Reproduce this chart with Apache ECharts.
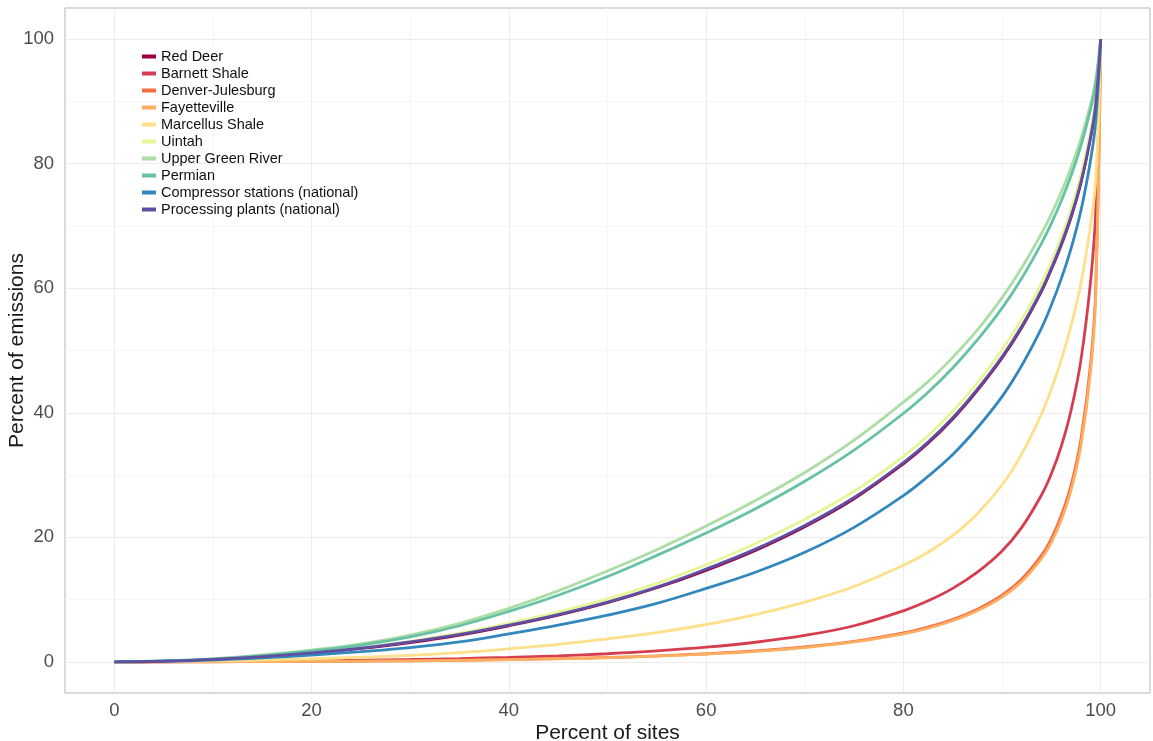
<!DOCTYPE html>
<html><head><meta charset="utf-8">
<script src="https://cdn.jsdelivr.net/npm/echarts@6/dist/echarts.min.js"></script>
<style>html,body{margin:0;padding:0;background:#fff}#c{width:1153px;height:741px}</style>
</head><body><div id="c"></div><script>
// Percent of sites (x)
const sitePct = [0,5,10,15,20,25,30,35,40,45,50,55,60,65,70,75,80,82.5,85,87.5,90,92,94,95,96,97,98,99,99.5,100];
// Percent of emissions (y) per basin
const redDeer      = [0,0.1,0.4,0.85,1.4,2.15,3.1,4.3,5.8,7.5,9.5,11.9,14.7,17.9,21.7,26.2,31.8,35.1,39.0,43.6,48.8,53.7,59.5,63.0,66.9,71.4,76.9,84.4,89.5,100];
const barnett      = [0,0.02,0.05,0.1,0.17,0.26,0.38,0.53,0.72,0.97,1.3,1.75,2.35,3.15,4.25,5.8,8.2,9.8,11.8,14.4,17.8,21.6,26.8,30.2,34.6,40.4,48.5,61.5,72.5,100];
const denverJ      = [0,0.01,0.02,0.04,0.07,0.12,0.18,0.26,0.37,0.52,0.7,0.95,1.3,1.75,2.4,3.3,4.65,5.6,6.8,8.45,10.7,13.3,17.1,19.8,23.5,28.4,35.8,48.2,60.2,100];
const fayetteville = [0,0.01,0.02,0.04,0.07,0.11,0.17,0.25,0.36,0.5,0.68,0.92,1.25,1.7,2.3,3.2,4.5,5.4,6.6,8.2,10.4,12.9,16.6,19.2,22.8,27.6,34.8,47.0,59.0,100];
const marcellus    = [0,0.05,0.15,0.3,0.5,0.75,1.05,1.5,2.1,2.8,3.7,4.7,6.0,7.6,9.6,12.1,15.5,17.6,20.3,23.8,28.4,33.4,39.8,43.8,48.5,54.0,60.8,70.5,77.5,100];
const uintah       = [0,0.1,0.4,0.9,1.5,2.3,3.3,4.6,6.2,8.0,10.1,12.6,15.6,19.0,22.9,27.4,33.0,36.3,40.2,44.8,50.1,55.0,60.8,64.3,68.2,72.7,78.2,85.4,90.4,100];
const upperGreen   = [0,0.15,0.5,1.1,1.9,2.9,4.3,6.2,8.6,11.4,14.6,18.0,21.8,25.9,30.4,35.6,41.7,45.0,48.9,53.3,58.5,63.3,68.8,71.9,75.4,79.4,84.0,89.7,93.5,100];
const permian      = [0,0.15,0.45,1.0,1.75,2.7,4.0,5.8,8.1,10.7,13.7,17.1,20.7,24.6,29.0,34.0,39.9,43.3,47.2,51.7,56.8,61.6,67.2,70.4,74.0,78.1,82.9,88.9,92.9,100];
const compressor   = [0,0.1,0.3,0.65,1.1,1.65,2.3,3.2,4.5,5.9,7.5,9.4,11.8,14.4,17.6,21.6,26.7,29.8,33.3,37.6,42.6,47.6,53.6,57.3,61.5,66.4,72.5,80.8,86.8,100];
const processing   = [0,0.1,0.4,0.85,1.45,2.2,3.2,4.4,5.9,7.6,9.6,12.0,14.9,18.1,21.9,26.4,32.0,35.3,39.2,43.8,49.0,53.9,59.7,63.2,67.1,71.6,77.1,84.5,89.6,100];

const seriesNames = ['Red Deer','Barnett Shale','Denver-Julesburg','Fayetteville','Marcellus Shale','Uintah','Upper Green River','Permian','Compressor stations (national)','Processing plants (national)'];
const seriesValues = [redDeer,barnett,denverJ,fayetteville,marcellus,uintah,upperGreen,permian,compressor,processing];
const seriesColors = ['#9E0142','#D53E4F','#F46D43','#FDAE61','#FEE08B','#E6F598','#ABDDA4','#66C2A5','#3288BD','#5E4FA2'];

const majorTicks = [0,20,40,60,80,100];
const minorTicks = [10,30,50,70,90];

const chart = echarts.init(document.getElementById('c'), null, {renderer:'canvas'});

const gridLines = {
  type:'line', name:'_grid', data:[[0,0]], showSymbol:false, silent:true, z:1,
  lineStyle:{opacity:0}, legendHoverLink:false, tooltip:{show:false},
  markLine:{
    silent:true, z:1, symbol:['none','none'], label:{show:false}, animation:false,
    data:[
      ...minorTicks.map(v=>({xAxis:v, lineStyle:{color:'#f6f6f6',width:1,type:'solid'}})),
      ...minorTicks.map(v=>({yAxis:v, lineStyle:{color:'#f6f6f6',width:1,type:'solid'}})),
      ...majorTicks.map(v=>({xAxis:v, lineStyle:{color:'#ececec',width:1,type:'solid'}})),
      ...majorTicks.map(v=>({yAxis:v, lineStyle:{color:'#ececec',width:1,type:'solid'}}))
    ]
  }
};

const dataSeries = seriesNames.map((n,i)=>({
  type:'line', name:n, z:3,
  data: sitePct.map((x,j)=>[x, seriesValues[i][j]]),
  smooth:0.4, showSymbol:false,
  lineStyle:{color:seriesColors[i], width:2.8},
  itemStyle:{color:seriesColors[i]}
}));

const axisCommon = {
  type:'value', min:-5, max:105,
  axisLine:{show:false},
  splitLine:{show:false},
  axisTick:{show:true, customValues:majorTicks, length:4, lineStyle:{color:'#555'}},
  axisLabel:{customValues:majorTicks, color:'#4d4d4d', fontSize:18.5, fontFamily:'Liberation Sans, Arial'},
  nameLocation:'middle', nameMoveOverlap:false,
  nameTextStyle:{color:'#1a1a1a', fontSize:21, fontFamily:'Liberation Sans, Arial'}
};

chart.setOption({
  animation:false,
  backgroundColor:'#ffffff',
  grid:{left:65, right:3, top:8, bottom:48, containLabel:false, outerBoundsMode:'none',
        show:true, borderColor:'#b5b5b5', borderWidth:1, backgroundColor:'#ffffff'},
  xAxis:Object.assign({}, axisCommon, {name:'Percent of sites', nameGap:30,
    axisLabel:Object.assign({}, axisCommon.axisLabel, {margin:8})}),
  yAxis:Object.assign({}, axisCommon, {name:'Percent of emissions', nameGap:37,
    axisLabel:Object.assign({}, axisCommon.axisLabel, {margin:11})}),
  legend:{
    data:seriesNames, orient:'vertical', left:137, top:44,
    icon:'rect', itemWidth:14, itemHeight:4, itemGap:2, itemTextGap:3,
    textStyle:{color:'#111', fontSize:14.5, lineHeight:15, fontFamily:'Liberation Sans, Arial'},
    selectedMode:false
  },
  series:[gridLines, ...dataSeries]
});
</script></body></html>
